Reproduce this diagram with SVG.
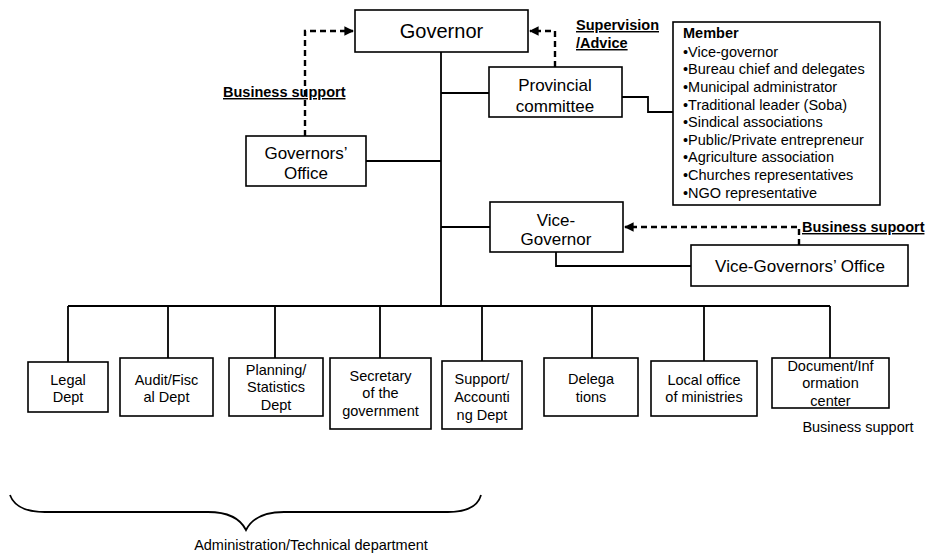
<svg xmlns="http://www.w3.org/2000/svg" width="928" height="554" viewBox="0 0 928 554">
  <defs>
    <style>
      .box { fill: #fff; stroke: #000; stroke-width: 1.6; }
      .ln { fill: none; stroke: #000; stroke-width: 1.8; }
      .dash { fill: none; stroke: #000; stroke-width: 2.4; stroke-dasharray: 6 4; }
      text { font-family: "Liberation Sans", Arial, sans-serif; fill: #000; }
      .big { font-size: 20px; text-anchor: middle; }
      .mid { font-size: 17px; text-anchor: middle; }
      .sm { font-size: 14.5px; text-anchor: middle; }
      .lbl { font-size: 14.5px; font-weight: bold; text-decoration: underline; }
      .mem { font-size: 14.5px; }
    </style>
    <marker id="arr" viewBox="0 0 10 10" refX="9" refY="5" markerWidth="4" markerHeight="4" orient="auto" markerUnits="strokeWidth">
      <path d="M0,0 L10,5 L0,10 z" fill="#000"/>
    </marker>
  </defs>

  <rect width="928" height="554" fill="#fff"/>

  <!-- connectors -->
  <g id="connectors">
    <!-- main trunk and bus -->
    <path class="ln" d="M441,52 V306"/>
    <path class="ln" d="M68,306 H830"/>
    <path class="ln" d="M68,306 V362 M168,306 V358 M275,306 V358 M380,306 V358 M482,306 V361 M592,306 V358 M704,306 V361 M830,306 V358"/>
    <!-- branches off the trunk -->
    <path class="ln" d="M441,93 H489"/>
    <path class="ln" d="M366,161 H441"/>
    <path class="ln" d="M441,227 H490"/>
    <!-- committee to members list -->
    <path class="ln" d="M622,97 H648 V112 H673"/>
    <!-- vice-governor to its office -->
    <path class="ln" d="M556,252 V266 H691"/>
    <!-- dashed support/advice links -->
    <path class="dash" d="M305,136 V31 H353" marker-end="url(#arr)"/>
    <path class="dash" d="M555,67 V31 H530" marker-end="url(#arr)"/>
    <path class="dash" d="M799,245 V227 H625" marker-end="url(#arr)"/>
  </g>

  <g id="governor">
    <rect class="box" x="355" y="10" width="173" height="42"/>
    <text class="big" x="441.5" y="38">Governor</text>
  </g>

  <g id="governors-office">
    <rect class="box" x="246" y="136" width="120" height="50"/>
    <text class="mid" x="306" y="159">Governors’</text>
    <text class="mid" x="306" y="179">Office</text>
  </g>

  <g id="provincial-committee">
    <rect class="box" x="489" y="67" width="133" height="50"/>
    <text class="mid" x="555" y="91">Provincial</text>
    <text class="mid" x="555" y="112">committee</text>
  </g>

  <g id="members">
    <rect class="box" x="673" y="22" width="207" height="183"/>
    <text class="mem" x="683" y="38" font-weight="bold">Member</text>
    <text class="mem" x="683" y="57">•Vice-governor</text>
    <text class="mem" x="683" y="74">•Bureau chief and delegates</text>
    <text class="mem" x="683" y="92">•Municipal administrator</text>
    <text class="mem" x="683" y="110">•Traditional leader (Soba)</text>
    <text class="mem" x="683" y="127">•Sindical associations</text>
    <text class="mem" x="683" y="145">•Public/Private entrepreneur</text>
    <text class="mem" x="683" y="162">•Agriculture association</text>
    <text class="mem" x="683" y="180">•Churches representatives</text>
    <text class="mem" x="683" y="198">•NGO representative</text>
  </g>

  <g id="vice-governor">
    <rect class="box" x="490" y="202" width="133" height="50"/>
    <text class="mid" x="556" y="226">Vice-</text>
    <text class="mid" x="556" y="245">Governor</text>
  </g>

  <g id="vice-governors-office">
    <rect class="box" x="691" y="245" width="217" height="41"/>
    <text class="mid" x="800" y="272">Vice-Governors’ Office</text>
  </g>

  <!-- link labels -->
  <g id="labels">
    <text class="lbl" x="223" y="97">Business support</text>
    <text class="lbl" x="576" y="30">Supervision</text>
    <text class="lbl" x="576" y="48">/Advice</text>
    <text class="lbl" x="802" y="232">Business supoort</text>
  </g>

  <!-- departments -->
  <g id="legal">
    <rect class="box" x="28" y="362" width="80" height="50"/>
    <text class="sm" x="68" y="385">Legal</text>
    <text class="sm" x="68" y="402">Dept</text>
  </g>
  <g id="audit">
    <rect class="box" x="120" y="358" width="93" height="58"/>
    <text class="sm" x="166.5" y="385">Audit/Fisc</text>
    <text class="sm" x="166.5" y="402">al Dept</text>
  </g>
  <g id="planning">
    <rect class="box" x="229" y="358" width="94" height="58"/>
    <text class="sm" x="276" y="375">Planning/</text>
    <text class="sm" x="276" y="392">Statistics</text>
    <text class="sm" x="276" y="410">Dept</text>
  </g>
  <g id="secretary">
    <rect class="box" x="330" y="358" width="101" height="71"/>
    <text class="sm" x="380.5" y="381">Secretary</text>
    <text class="sm" x="380.5" y="398">of the</text>
    <text class="sm" x="380.5" y="416">government</text>
  </g>
  <g id="support">
    <rect class="box" x="442" y="361" width="80" height="68"/>
    <text class="sm" x="482" y="384">Support/</text>
    <text class="sm" x="482" y="402">Accounti</text>
    <text class="sm" x="482" y="420">ng Dept</text>
  </g>
  <g id="delegations">
    <rect class="box" x="544" y="358" width="94" height="58"/>
    <text class="sm" x="591" y="384">Delega</text>
    <text class="sm" x="591" y="402">tions</text>
  </g>
  <g id="local-office">
    <rect class="box" x="651" y="361" width="106" height="55"/>
    <text class="sm" x="704" y="385">Local office</text>
    <text class="sm" x="704" y="402">of ministries</text>
  </g>
  <g id="document-center">
    <rect class="box" x="772" y="358" width="117" height="50"/>
    <text class="sm" x="830.5" y="371">Document/Inf</text>
    <text class="sm" x="830.5" y="388">ormation</text>
    <text class="sm" x="830.5" y="406">center</text>
  </g>
  <text class="sm" x="858" y="432">Business support</text>

  <!-- grouping brace under the departments -->
  <g id="brace">
    <path class="ln" stroke-width="1.6" d="M10,495 C14,506 24,512 45,512 H208 C228,512 240,518 246,530 C252,518 264,512 284,512 H448 C468,512 478,506 481,495"/>
    <text class="sm" x="311" y="550">Administration/Technical department</text>
  </g>
</svg>
